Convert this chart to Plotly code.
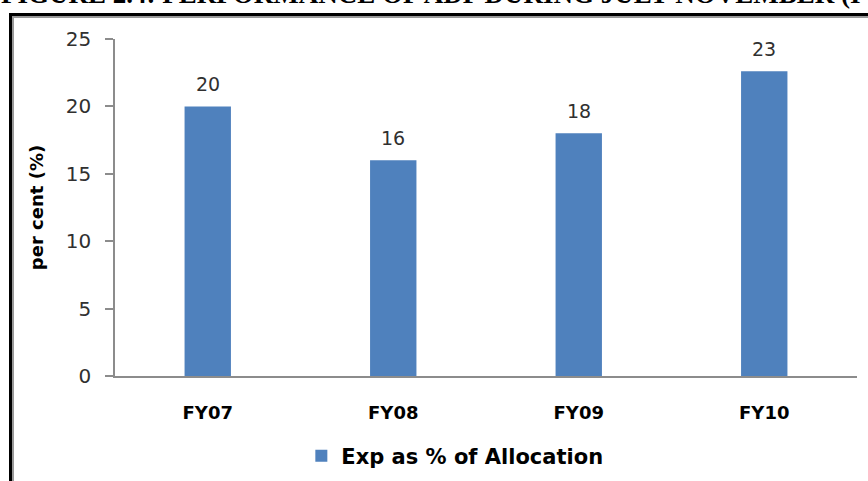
import plotly.graph_objects as go

categories = ["FY07", "FY08", "FY09", "FY10"]
values = [20.0, 16.0, 18.0, 22.6]
labels = ["20", "16", "18", "23"]
series_name = "Exp as % of Allocation"
title_text = "FIGURE 2.4: PERFORMANCE OF ADP DURING JULY-NOVEMBER (I"
y_ticks = [0, 5, 10, 15, 20, 25]

W, H = 868, 481
L, R, T, B = 115, 11, 39, 105
pw, ph = W - L - R, H - T - B

def px_x(p):
    return (p - L) / pw

def px_y(q):
    return (H - B - q) / ph

FONT = "DejaVu Sans"

fig = go.Figure()
fig.add_trace(go.Bar(
    x=categories, y=values, name=series_name,
    marker=dict(color="#4f81bd", line=dict(width=0)),
    width=0.25, showlegend=True,
))

for c, v, t in zip(categories, values, labels):
    fig.add_annotation(x=c, y=v, text=t, showarrow=False, yshift=22,
                       font=dict(family=FONT, size=19, color="#303030"))

# Frame lines (document border)
fig.add_shape(type="line", xref="paper", yref="paper", x0=px_x(10.5), x1=px_x(10.5),
              y0=px_y(13), y1=px_y(490), line=dict(color="black", width=3))
fig.add_shape(type="line", xref="paper", yref="paper", x0=px_x(13), x1=px_x(13),
              y0=px_y(16), y1=px_y(490), line=dict(color="#999999", width=2))
fig.add_shape(type="line", xref="paper", yref="paper", x0=px_x(9), x1=px_x(880),
              y0=px_y(14.5), y1=px_y(14.5), line=dict(color="black", width=3))
fig.add_shape(type="line", xref="paper", yref="paper", x0=px_x(12), x1=px_x(880),
              y0=px_y(17), y1=px_y(17), line=dict(color="#999999", width=2))

fig.add_annotation(xref="paper", yref="paper", x=px_x(-1), y=px_y(-6),
                   xanchor="left", yanchor="middle", showarrow=False,
                   text="<b>" + title_text + "</b>",
                   font=dict(family="Liberation Serif", size=27, color="black"))

fig.update_layout(
    width=W, height=H,
    margin=dict(l=L, r=R, t=T, b=B, pad=0, autoexpand=False),
    paper_bgcolor="white", plot_bgcolor="white",
    font=dict(family=FONT, color="#303030"),
    bargap=0.75,
    xaxis=dict(
        automargin=False,
        showline=True, linecolor="#8c8c8c", linewidth=1.5,
        ticks="", tickfont=dict(family=FONT, size=18, color="black", weight="bold"),
        ticklabelstandoff=20, showgrid=False, zeroline=False,
    ),
    yaxis=dict(
        automargin=False,
        range=[0, 25], tickvals=y_ticks, showline=True, linecolor="#8c8c8c", linewidth=1.5,
        ticks="outside", ticklen=8, tickcolor="#8c8c8c", tickwidth=1.5,
        tickfont=dict(family=FONT, size=20, color="#303030"),
        ticklabelstandoff=10, showgrid=False, zeroline=False,
        title=dict(text="per cent (%)", standoff=17,
                   font=dict(family=FONT, size=18, color="black", weight="bold")),
    ),
    legend=dict(orientation="h", x=0.458, xanchor="center", y=1 - 456 / H, yanchor="middle",
                yref="container",
                font=dict(family=FONT, size=21, color="black", weight="bold"),
                bgcolor="rgba(0,0,0,0)"),
)

fig.write_html("out.html", config={"displayModeBar": False},
               post_script="document.body.style.margin='0';")
